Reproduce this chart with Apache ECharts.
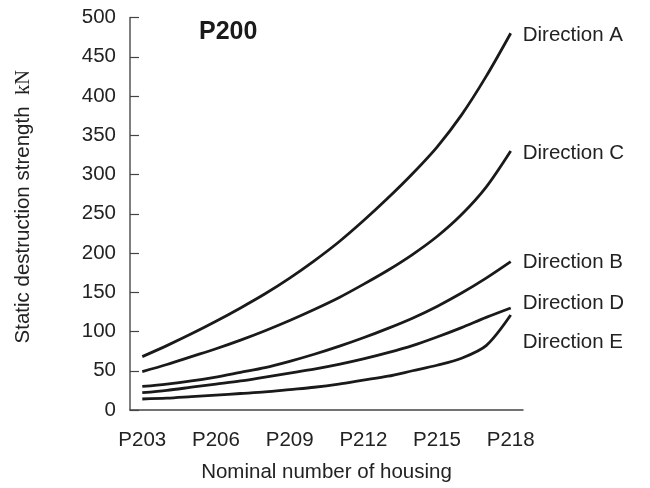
<!DOCTYPE html>
<html>
<head>
<meta charset="utf-8">
<script src="https://cdn.jsdelivr.net/npm/echarts@6/dist/echarts.min.js"></script>
<style>html,body{margin:0;padding:0;background:#fff}#c{width:650px;height:488px}</style>
</head>
<body>
<div id="c"></div>
<script>
const categories = ['P203','P204','P205','P206','P207','P208','P209','P210','P211','P212','P213','P214','P215','P216','P217','P218'];
const dirA = [68, 82, 97, 113, 130, 148, 168, 190, 214, 241, 270, 301, 335, 376, 425, 480];
const dirC = [49, 58, 68, 78, 89, 101, 114, 128, 143, 160, 178, 198, 221, 249, 284, 330];
const dirB = [30, 33, 37, 42, 48, 54, 62, 71, 81, 92, 104, 117, 132, 149, 168, 189];
const dirD = [22, 25, 29, 33, 37, 42, 47, 52, 58, 65, 73, 82, 93, 105, 118, 130];
const dirE = [14, 15, 17, 19, 21, 23, 26, 29, 33, 38, 43, 50, 57, 66, 82, 121];
const seriesNames = ['Direction A','Direction C','Direction B','Direction D','Direction E'];
const labelOffsets = [[0,2],[0,2],[0,1],[0,-5],[0,27]];
const yTicks = [0, 50, 100, 150, 200, 250, 300, 350, 400, 450, 500];

const FONT = 'Liberation Sans, Arial, Helvetica, sans-serif';
const FS = 20.5;
const chart = echarts.init(document.getElementById('c'), null, {renderer: 'canvas'});
const datasets = [dirA, dirC, dirB, dirD, dirE];
chart.setOption({
  animation: false,
  backgroundColor: '#fff',
  title: {
    text: 'P200', left: 194, top: 15,
    textStyle: {fontFamily: FONT, fontWeight: 'bold', fontSize: 25, color: '#1a1a1a'}
  },
  grid: {left: 130, right: 127, top: 17.5, bottom: 77},
  xAxis: {
    type: 'category', data: categories, boundaryGap: true,
    name: 'Nominal number of housing', nameLocation: 'middle', nameGap: 52,
    nameTextStyle: {fontFamily: FONT, fontSize: FS, color: '#222'},
    axisLine: {lineStyle: {color: '#444', width: 1.5}},
    axisTick: {inside: true, length: 10, alignWithLabel: true, interval: 0, lineStyle: {color: '#333', width: 1.5}},
    axisLabel: {interval: 2, margin: 20, fontFamily: FONT, fontSize: FS, color: '#222'},
    splitLine: {show: false}
  },
  yAxis: {
    type: 'value', min: yTicks[0], max: yTicks[yTicks.length-1], interval: 50,
    name: '{t|Static destruction strength  }{k|kN}', nameLocation: 'middle', nameGap: 96,
    nameTextStyle: {
      fontFamily: FONT, fontSize: FS, color: '#222', padding: [0, 0, 0, 14],
      rich: {t: {fontFamily: FONT, fontSize: FS, color: '#222'}, k: {fontFamily: 'Liberation Serif, serif', fontSize: FS, color: '#222'}}
    },
    axisLine: {show: true, lineStyle: {color: '#555', width: 1.5}},
    axisTick: {show: true, inside: true, length: 9, lineStyle: {color: '#444', width: 1.2}},
    axisLabel: {margin: 14, fontFamily: FONT, fontSize: FS, color: '#222'},
    splitLine: {show: false}
  },
  series: datasets.map((d, i) => ({
    name: seriesNames[i], type: 'line', data: d, smooth: 0.3, showSymbol: false, symbol: 'none',
    lineStyle: {color: '#1a1a1a', width: 2.8},
    endLabel: {show: true, formatter: seriesNames[i], distance: 12, offset: labelOffsets[i],
      fontFamily: FONT, fontSize: FS, color: '#222'},
    labelLayout: {hideOverlap: false}
  }))
});
</script>
</body>
</html>
